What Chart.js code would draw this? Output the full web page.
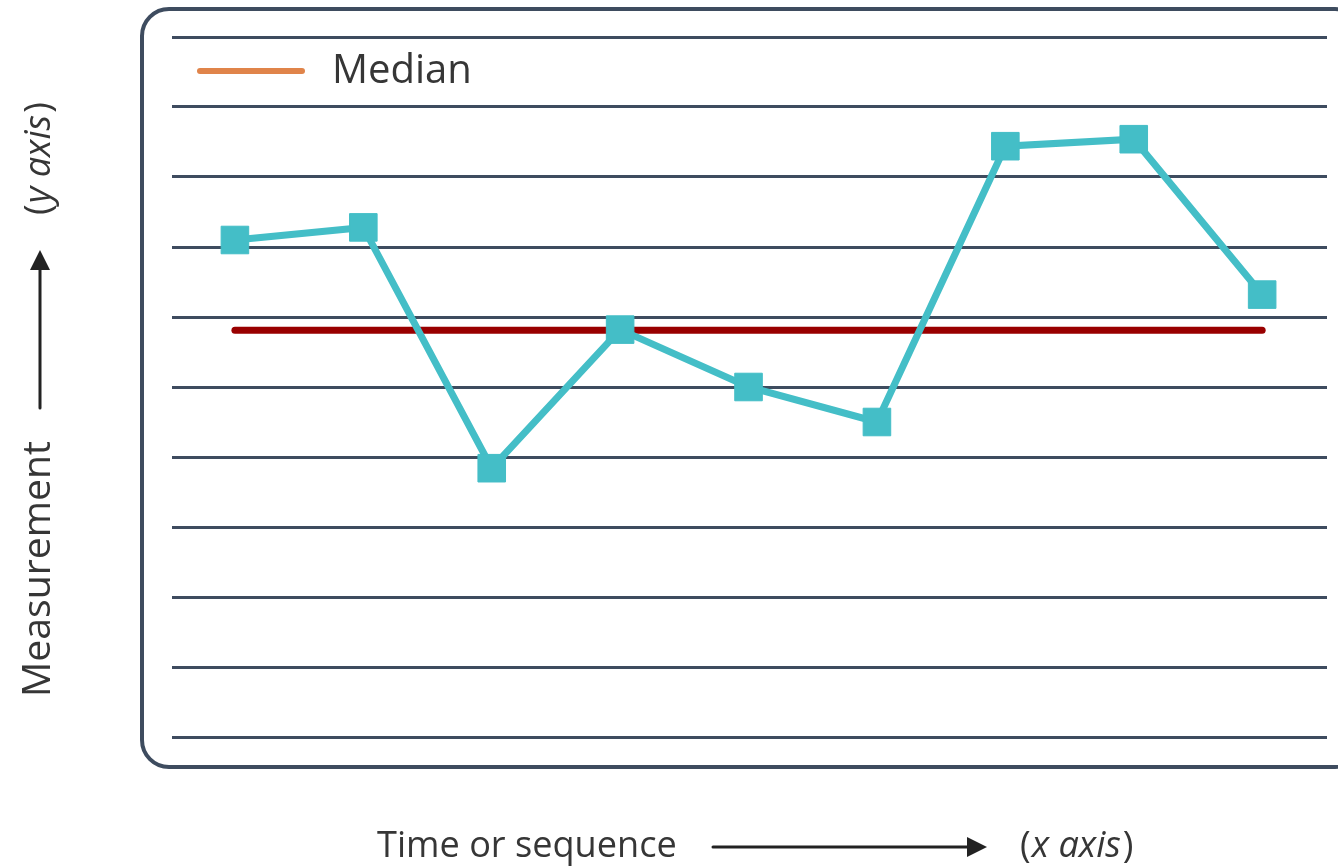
<!DOCTYPE html>
<html>
<head>
<meta charset="utf-8">
<script src="https://cdn.jsdelivr.net/npm/chart.js@4"></script>
<style>
  html, body { margin: 0; padding: 0; background: #fff; }
  canvas { display: block; }
</style>
</head>
<body>
<canvas id="run" width="1338" height="867"></canvas>
<script>
// run chart values (grid step = 1 unit)
const sequence = [1, 2, 3, 4, 5, 6, 7, 8, 9];
const measurements = [7.10, 7.28, 3.84, 5.82, 5.00, 4.50, 8.44, 8.54, 6.32];
const medianValue = 5.81;
const medianLabel = 'Median';
const xTitle = 'Time or sequence';
const yTitle = 'Measurement';

const TEAL = '#44bec7';
const GRID = '#3e4c5f';
const MEDIAN_RED = '#990000';
const LEGEND_ORANGE = '#e0844a';
const TEXT = '#363636';
const FONT = '"Open Sans", "DejaVu Sans", sans-serif';

// pick a font size so text spans a given width
function fitSize(ctx, text, width, style) {
  ctx.font = (style || '') + ' 100px ' + FONT;
  return 100 * width / ctx.measureText(text).width;
}

function arrow(ctx, x1, y1, x2, y2) {
  const a = Math.atan2(y2 - y1, x2 - x1);
  const head = 20, half = 10;
  ctx.save();
  ctx.strokeStyle = '#222';
  ctx.fillStyle = '#222';
  ctx.lineWidth = 3;
  ctx.beginPath();
  ctx.moveTo(x1, y1);
  ctx.lineTo(x2 - Math.cos(a) * head, y2 - Math.sin(a) * head);
  ctx.stroke();
  ctx.beginPath();
  ctx.moveTo(x2, y2);
  ctx.lineTo(x2 - Math.cos(a) * head - Math.sin(a) * half, y2 - Math.sin(a) * head + Math.cos(a) * half);
  ctx.lineTo(x2 - Math.cos(a) * head + Math.sin(a) * half, y2 - Math.sin(a) * head - Math.cos(a) * half);
  ctx.closePath();
  ctx.fill();
  ctx.restore();
}

// "(x axis)" with the words in italics
function axisNote(ctx, letter, size) {
  const parts = [['(', ''], [letter + ' axis', 'italic'], [')', '']];
  let x = 0;
  parts.forEach(([t, style]) => {
    ctx.font = style + ' ' + size + 'px ' + FONT;
    ctx.fillText(t, x, 0);
    x += ctx.measureText(t).width + (t === '(' ? 1 : 2);
  });
}

const decorations = {
  id: 'decorations',
  beforeDraw(chart) {
    const ctx = chart.ctx;
    ctx.save();
    ctx.strokeStyle = GRID;
    ctx.lineWidth = 4;
    ctx.beginPath();
    ctx.roundRect(142, 9, 1220, 758, 27);
    ctx.stroke();
    ctx.restore();
  },
  afterDraw(chart) {
    const ctx = chart.ctx;
    ctx.save();
    ctx.fillStyle = TEXT;
    ctx.textBaseline = 'alphabetic';
    ctx.textAlign = 'left';

    // legend
    ctx.strokeStyle = LEGEND_ORANGE;
    ctx.lineWidth = 6;
    ctx.lineCap = 'round';
    ctx.beginPath();
    ctx.moveTo(200, 71);
    ctx.lineTo(302, 71);
    ctx.stroke();
    const legendSize = fitSize(ctx, medianLabel, 140);
    ctx.font = legendSize + 'px ' + FONT;
    ctx.fillText(medianLabel, 332, 83);

    // x axis title
    const titleSize = fitSize(ctx, xTitle, 300);
    ctx.font = titleSize + 'px ' + FONT;
    ctx.fillText(xTitle, 377, 857);
    arrow(ctx, 713, 847, 987, 847);
    ctx.save();
    ctx.translate(1020, 857);
    axisNote(ctx, 'x', titleSize);
    ctx.restore();

    // y axis title
    const ySize = fitSize(ctx, yTitle, 256);
    ctx.save();
    ctx.translate(50, 697);
    ctx.rotate(-Math.PI / 2);
    ctx.font = ySize + 'px ' + FONT;
    ctx.fillText(yTitle, 0, 0);
    ctx.restore();
    arrow(ctx, 40, 408, 40, 250);
    ctx.save();
    ctx.translate(50, 215);
    ctx.rotate(-Math.PI / 2);
    axisNote(ctx, 'y', titleSize);
    ctx.restore();

    ctx.restore();
  }
};

new Chart(document.getElementById('run'), {
  type: 'line',
  data: {
    datasets: [
      {
        label: 'Measurement',
        data: sequence.map((s, i) => ({ x: s, y: measurements[i] })),
        borderColor: TEAL,
        backgroundColor: TEAL,
        borderWidth: 7,
        tension: 0,
        pointStyle: 'rect',
        pointRadius: 19.5,
        pointHoverRadius: 19.5,
        pointBorderWidth: 1,
        pointBorderColor: TEAL,
        pointBackgroundColor: TEAL,
        clip: false
      },
      {
        label: medianLabel,
        data: [
          { x: sequence[0], y: medianValue },
          { x: sequence[sequence.length - 1], y: medianValue }
        ],
        borderColor: MEDIAN_RED,
        borderWidth: 7,
        borderCapStyle: 'round',
        pointRadius: 0,
        clip: false
      }
    ]
  },
  options: {
    responsive: false,
    animation: false,
    events: [],
    layout: { autoPadding: false, padding: { left: 172, right: 11, top: 37, bottom: 130 } },
    plugins: {
      legend: { display: false },
      tooltip: { enabled: false }
    },
    scales: {
      x: {
        type: 'linear',
        display: false,
        min: 0.51,
        max: 9.505
      },
      y: {
        min: 0,
        max: 10,
        ticks: { display: false, stepSize: 1 },
        grid: { color: GRID, lineWidth: 3, drawTicks: false },
        border: { display: false }
      }
    }
  },
  plugins: [decorations]
});
</script>
</body>
</html>
